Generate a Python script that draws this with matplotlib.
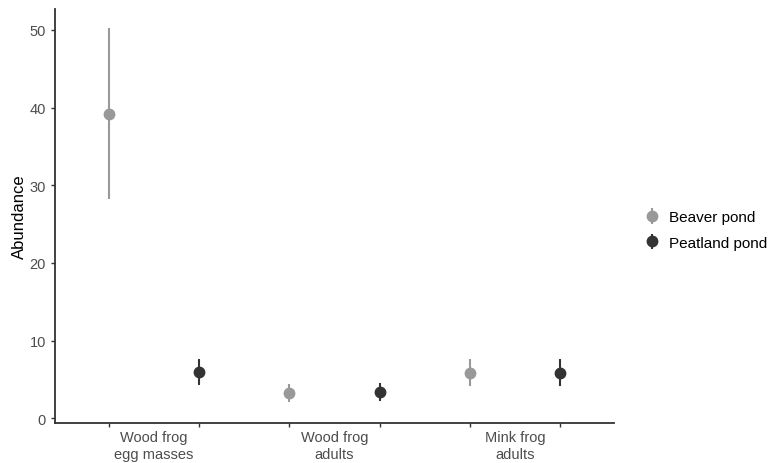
import matplotlib.pyplot as plt

plt.rcParams['font.family'] = ['Liberation Sans', 'DejaVu Sans']

groups = ['Wood frog\negg masses', 'Wood frog\nadults', 'Mink frog\nadults']
ponds = ['Beaver pond', 'Peatland pond']
colors = ['#999999', '#333333']

beaver_mean = [39.2, 3.3, 5.9]
beaver_low = [28.2, 2.1, 4.2]
beaver_high = [50.2, 4.4, 7.6]

peat_mean = [6.0, 3.4, 5.9]
peat_low = [4.3, 2.2, 4.1]
peat_high = [7.7, 4.5, 7.7]

fig = plt.figure(figsize=(7.7, 4.64), dpi=100)
ax = fig.add_axes([55 / 770, 40 / 464, (614 - 55) / 770, (424 - 10) / 464])

series = [(beaver_mean, beaver_low, beaver_high), (peat_mean, peat_low, peat_high)]
for k, (m, lo, hi) in enumerate(series):
    xs = [2 * i + 1 + k for i in range(len(groups))]
    ax.vlines(xs, lo, hi, color=colors[k], lw=1.5, zorder=2)
    ax.plot(xs, m, 'o', color=colors[k], ms=7.5, zorder=3, ls='none')

ax.set_xlim(0.4, 6.6)
ax.set_ylim(-0.6, 52.7)
ax.set_xticks(range(1, 7))
ax.set_xticklabels([''] * 6)
for i, g in enumerate(groups):
    ax.text(2 * i + 1.5, -0.017, g, transform=ax.get_xaxis_transform(),
            ha='center', va='top', fontsize=10.5, color='#4D4D4D', linespacing=1.25)
ax.set_yticks([0, 10, 20, 30, 40, 50])
ax.tick_params(colors='#333333', labelcolor='#4D4D4D', labelsize=10.5, length=3, width=1)
ax.set_ylabel('Abundance', fontsize=12, color='black', labelpad=2)
for s in ['top', 'right']:
    ax.spines[s].set_visible(False)
for s in ['left', 'bottom']:
    ax.spines[s].set_color('#333333')
    ax.spines[s].set_linewidth(1.3)

eb = []
for c in colors:
    h = ax.errorbar([], [], yerr=[], fmt='o', color=c, ms=7.5, elinewidth=1.5, capsize=0)
    eb.append(h)
fig.legend(eb, ponds, loc='center left', bbox_to_anchor=(635 / 770, 1 - 231 / 464),
           frameon=False, fontsize=11, handlelength=0.8, handletextpad=0.75,
           labelspacing=0.75, borderpad=0.2)

fig.savefig('out.png', dpi=100)
